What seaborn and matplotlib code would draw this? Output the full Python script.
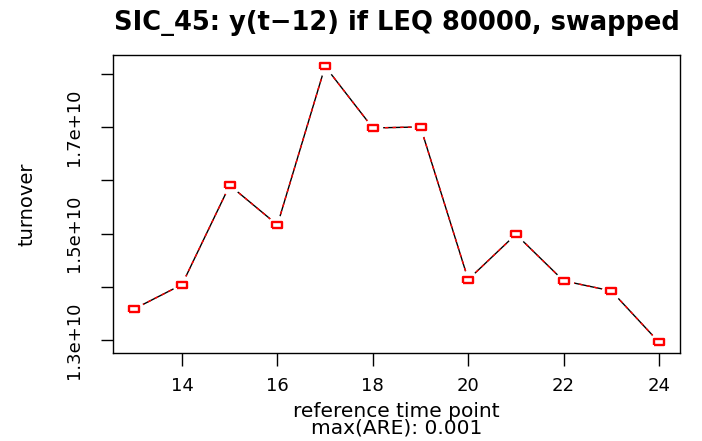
import matplotlib
matplotlib.use("Agg")
import matplotlib.pyplot as plt
import seaborn as sns
import numpy as np
import pandas as pd

# Data
time_points = [13, 14, 15, 16, 17, 18, 19, 20, 21, 22, 23, 24]
turnover = [1.3589e10, 1.4045e10, 1.5909e10, 1.5166e10, 1.8143e10, 1.6986e10,
            1.7005e10, 1.4139e10, 1.4989e10, 1.4115e10, 1.3927e10, 1.2962e10]
x_ticks = [14, 16, 18, 20, 22, 24]
y_ticks = [1.3e10, 1.4e10, 1.5e10, 1.6e10, 1.7e10, 1.8e10]
y_tick_labels = ["1.3e+10", "", "1.5e+10", "", "1.7e+10", ""]
title = "SIC_45: y(t\u221212) if LEQ 80000, swapped"
x_label = "reference time point\nmax(ARE): 0.001"
y_label = "turnover"

df = pd.DataFrame({"t": time_points, "turnover": turnover})

sns.set_theme(style="white")
plt.rcParams["font.family"] = ["DejaVu Sans"]
plt.rcParams["text.color"] = "black"
plt.rcParams["axes.labelcolor"] = "black"
plt.rcParams["xtick.color"] = "black"
plt.rcParams["ytick.color"] = "black"

fig = plt.figure(figsize=(7.02, 4.41), dpi=100)
ax = fig.add_axes([113.3 / 702, 1 - 353.3 / 441, (680 - 113.3) / 702, (353.3 - 55.3) / 441])

sns.lineplot(data=df, x="t", y="turnover", ax=ax, color="black", linewidth=1.0,
             zorder=1, sort=False)
sns.lineplot(data=df, x="t", y="turnover", ax=ax, color="red", linewidth=1.0,
             zorder=1.2, sort=False)
ax.lines[-1].set_dashes([2.5, 3])
# gaps around points (R type "b")
sns.scatterplot(data=df, x="t", y="turnover", ax=ax, color="white", s=14 ** 2,
                marker="o", linewidth=0, zorder=1.5)
rect = [(-1.5, -1), (1.5, -1), (1.5, 1), (-1.5, 1), (-1.5, -1)]
sns.scatterplot(data=df, x="t", y="turnover", ax=ax, marker=rect, s=7.0 ** 2,
                facecolor="white", edgecolor="red", linewidth=1.7, zorder=3)

xmin, xmax = min(time_points), max(time_points)
ymin, ymax = min(turnover), max(turnover)
ax.set_xlim(xmin - 0.04 * (xmax - xmin), xmax + 0.04 * (xmax - xmin))
ax.set_ylim(ymin - 0.04 * (ymax - ymin), ymax + 0.04 * (ymax - ymin))

ax.set_xticks(x_ticks)
ax.set_xticklabels([str(v) for v in x_ticks])
ax.set_yticks(y_ticks)
ax.set_yticklabels(y_tick_labels)

for s in ax.spines.values():
    s.set_visible(True)
    s.set_color("black")
    s.set_linewidth(1.0)
    s.set_zorder(2.5)

ax.tick_params(axis="both", which="major", direction="out", length=9, width=1,
               colors="black", bottom=True, left=True)
ax.tick_params(axis="x", pad=8, labelsize=13)
ax.tick_params(axis="y", pad=13, labelsize=13)
for lab in ax.get_yticklabels():
    lab.set_rotation(90)
    lab.set_va("bottom")
    lab.set_ha("center")
    lab.set_rotation_mode("anchor")

ax.set_title(title, fontsize=18.5, fontweight="bold", pad=18, x=0.5, color="black")
ax.set_xlabel(x_label, fontsize=14.5, linespacing=0.82)
ax.xaxis.set_label_coords(0.5, -0.165)
ax.set_ylabel(y_label, fontsize=14)
ax.yaxis.set_label_coords(-0.152, 0.5)
ax.yaxis.label.set_va("center")

fig.savefig("out.png", dpi=100, facecolor="white")
